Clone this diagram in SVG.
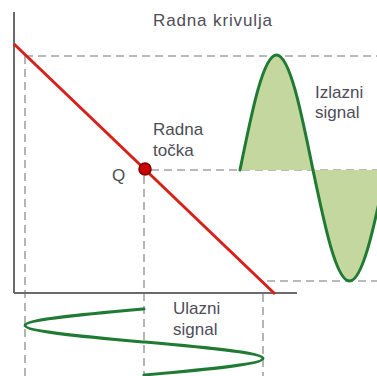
<svg xmlns="http://www.w3.org/2000/svg" width="377" height="376" viewBox="0 0 377 376">
<style>
.dash{stroke:#a3a3a3;stroke-width:1.6;stroke-dasharray:8 5;fill:none}
.axis{stroke:#6b6b6b;stroke-width:2;fill:none}
.lbl{font-family:"Liberation Sans",Arial,sans-serif;font-size:17px;fill:#4d4d58}
.sig{stroke:#1f7a34;stroke-width:3;fill:none;stroke-linecap:round}
</style>
<rect width="377" height="376" fill="#ffffff"/>
<g id="guides">
<line class="dash" x1="25" y1="56" x2="377" y2="56"/>
<line class="dash" x1="25" y1="56" x2="25" y2="376"/>
<line class="dash" x1="151" y1="170" x2="377" y2="170"/>
<line class="dash" x1="144" y1="176" x2="144" y2="376"/>
<line class="dash" x1="267" y1="281" x2="377" y2="281"/>
<line class="dash" x1="263" y1="294" x2="263" y2="376"/>
</g>
<g id="axes">
<line class="axis" x1="14" y1="12" x2="14" y2="293"/>
<line class="axis" x1="14" y1="293" x2="297" y2="293"/>
</g>
<g id="output-signal">
<path d="M240,170 C251.9,111.1 263.3,55 276.5,55 C289.7,55 301.1,111.1 313,170 C324.9,226.9 336.3,281 349.5,281 C362.7,281 374.1,226.9 386,170" fill="#c4d79f" stroke="none"/>
<path class="sig" d="M240,170 C251.9,111.1 263.3,55 276.5,55 C289.7,55 301.1,111.1 313,170 C324.9,226.9 336.3,281 349.5,281 C362.7,281 374.1,226.9 386,170"/>
</g>
<g id="input-signal">
<path class="sig" d="M144,309 C83,314.4 25,319.5 25,325.5 C25,331.5 83,336.6 144,342 C205,347.4 263,352.5 263,358.5 C263,364.5 205,369.6 144,375"/>
</g>
<g id="load-line">
<line x1="14" y1="44" x2="275" y2="294" stroke="#d8201b" stroke-width="3"/>
</g>
<g id="q-point">
<circle cx="145" cy="169" r="6" fill="#cc0000" stroke="#7a0000" stroke-width="1.5"/>
<text class="lbl" x="112" y="181" font-size="18">Q</text>
</g>
<g id="labels">
<text class="lbl" x="153" y="26" textLength="119" lengthAdjust="spacing">Radna krivulja</text>
<text class="lbl" x="315" y="98">Izlazni</text>
<text class="lbl" x="315" y="118">signal</text>
<text class="lbl" x="153" y="135">Radna</text>
<text class="lbl" x="153" y="156">točka</text>
<text class="lbl" x="173" y="314">Ulazni</text>
<text class="lbl" x="173" y="335">signal</text>
</g>
</svg>
